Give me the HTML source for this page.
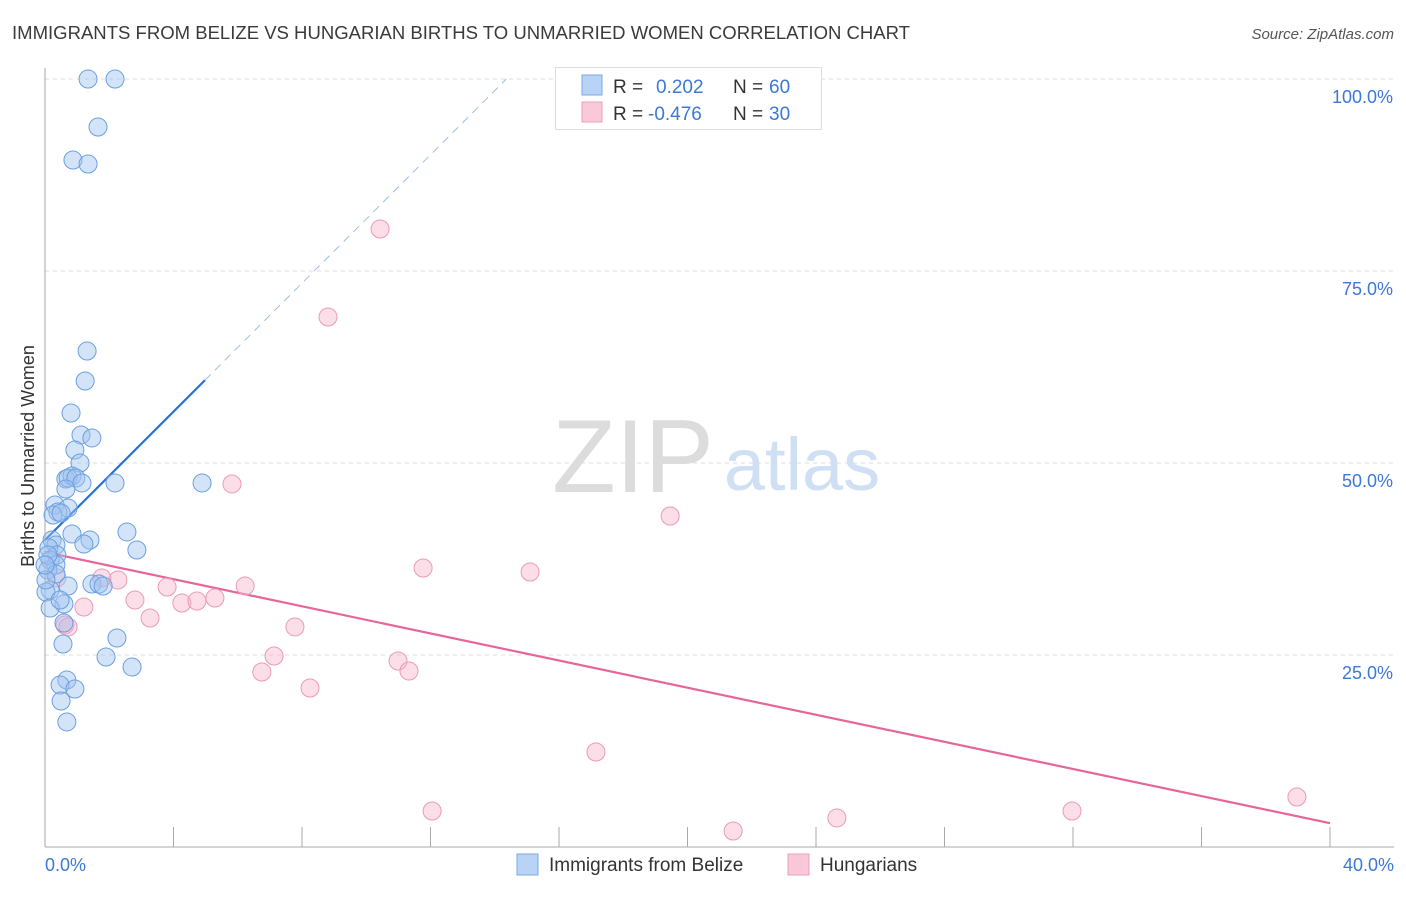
<!DOCTYPE html>
<html><head><meta charset="utf-8"><style>
body{margin:0;background:#fff;font-family:"Liberation Sans",sans-serif;}
svg text{font-family:"Liberation Sans",sans-serif;}
</style></head><body>
<svg id="chart" width="1406" height="892" xmlns="http://www.w3.org/2000/svg">
<text x="12" y="39" font-size="18" fill="#3a3a3a" textLength="898" lengthAdjust="spacingAndGlyphs">IMMIGRANTS FROM BELIZE VS HUNGARIAN BIRTHS TO UNMARRIED WOMEN CORRELATION CHART</text>
<text x="1394" y="39" font-size="15" fill="#555" font-style="italic" text-anchor="end">Source: ZipAtlas.com</text>
<text transform="translate(34,456) rotate(-90)" font-size="18" fill="#333" text-anchor="middle">Births to Unmarried Women</text>
<g>
<text x="633" y="492" font-size="104" fill="#dcdcdc" font-family="Liberation Serif" text-anchor="middle">ZIP</text>
<text x="802" y="490" font-size="74" fill="#cfe0f4" text-anchor="middle">atlas</text>
</g>
<g id="grid"></g>
<g id="axes"></g>
<g id="lines"></g>
<g id="points"></g>
<g>
<rect x="555.5" y="67.5" width="266" height="62" fill="#fff" stroke="#ddd"/>
<rect x="582" y="75" width="20" height="20" fill="#b8d3f5" stroke="#7aa8e6"/>
<rect x="582" y="102" width="20" height="20" fill="#fac8d8" stroke="#eba0ba"/>
<text x="613" y="93" font-size="19" fill="#333">R =</text>
<text x="656" y="93" font-size="19" fill="#3c78d8">0.202</text>
<text x="733" y="93" font-size="19" fill="#333">N =</text>
<text x="769" y="93" font-size="19" fill="#3c78d8">60</text>
<text x="613" y="120" font-size="19" fill="#333">R =</text>
<text x="648" y="120" font-size="19" fill="#3c78d8">-0.476</text>
<text x="733" y="120" font-size="19" fill="#333">N =</text>
<text x="769" y="120" font-size="19" fill="#3c78d8">30</text>
</g>
<g>
<rect x="517" y="854" width="21" height="21" fill="#b8d3f5" stroke="#7aa8e6"/>
<text x="549" y="871" font-size="19" fill="#333">Immigrants from Belize</text>
<rect x="788" y="854" width="21" height="21" fill="#fac8d8" stroke="#eba0ba"/>
<text x="820" y="871" font-size="19" fill="#333">Hungarians</text>
</g>
</svg>
<script>
const yTicks=[25,50,75,100];
const yTickLabels=["25.0%","50.0%","75.0%","100.0%"];
const xTicks=[0,4,8,12,16,20,24,28,32,36,40];
const xEndLabels=["0.0%","40.0%"];
const belizeX=[1.34,2.18,1.65,0.87,1.34,1.31,1.25,0.81,1.12,1.46,0.93,1.09,0.65,0.84,0.72,0.96,1.15,2.18,4.89,0.65,0.31,0.72,0.40,0.25,0.50,0.22,0.34,0.12,0.37,0.16,0.84,1.40,1.21,2.55,2.86,0.34,0.09,0.34,0.16,0.03,0.72,1.46,1.68,1.81,0.59,0.16,0.59,0.56,2.24,1.90,2.71,0.68,0.47,0.93,0.50,0.68,0.03,0.09,0.47,0.0];
const belizeY=[100,100,93.75,89.45,88.93,64.58,60.68,56.51,53.65,53.26,51.69,50.0,47.92,48.31,48.05,48.05,47.40,47.40,47.40,46.61,44.53,44.14,43.62,43.23,43.49,39.97,39.32,38.93,38.02,37.37,40.76,39.97,39.45,41.02,38.67,36.72,36.07,35.55,33.46,33.20,33.98,34.24,34.24,33.98,31.64,31.12,29.17,26.43,27.21,24.74,23.44,21.74,21.09,20.57,19.01,16.28,34.77,38.02,32.16,36.72];
const hungX=[10.43,8.81,5.82,19.46,11.77,15.10,2.27,1.77,0.37,3.80,6.23,2.80,5.29,4.26,4.73,1.21,3.27,0.62,0.72,7.78,7.13,10.99,6.75,11.33,8.25,17.15,12.05,31.97,21.42,24.65,38.97];
const hungY=[80.47,69.01,47.27,43.10,36.33,35.81,34.77,35.03,35.03,33.85,33.98,32.16,32.42,31.77,32.03,31.25,29.82,28.91,28.65,28.65,24.87,24.22,22.79,22.92,20.70,12.37,4.69,4.69,2.08,3.78,6.51];
const belizeTrend=[39.97,4.18]; // intercept, slope
const hungTrend=[38.4,-0.8825];

const X0=45,X1=1330,Y0=847,Y100=79;
const sx=v=>X0+(X1-X0)*v/40;
const sy=v=>Y0-(Y0-Y100)*v/100;
const NS="http://www.w3.org/2000/svg";
function mk(tag,attrs,parent){const e=document.createElementNS(NS,tag);for(const k in attrs)e.setAttribute(k,attrs[k]);parent.appendChild(e);return e;}
const grid=document.getElementById('grid'),axes=document.getElementById('axes'),lines=document.getElementById('lines'),pts=document.getElementById('points');
yTicks.forEach((t,i)=>{
 const l=mk('line',{x1:X0,x2:1394,y1:sy(t),y2:sy(t),stroke:'#ddd','stroke-dasharray':'4,4'},grid);
 
 
 const tx=mk('text',{x:1393,y:sy(t)+24,'font-size':18,fill:'#3c78d8','text-anchor':'end'},axes);
 tx.textContent=yTickLabels[i];
 
 
});
const ya=mk('line',{x1:X0,x2:X0,y1:68,y2:Y0,stroke:'#aaa'},axes);


const xa=mk('line',{x1:X0,x2:1394,y1:Y0,y2:Y0,stroke:'#aaa'},axes);


xTicks.forEach(t=>{
 const l=mk('line',{x1:sx(t),x2:sx(t),y1:827,y2:Y0,stroke:'#aaa'},axes);
 
 
});
[[0,'start',45],[40,'end',1394]].forEach((a,i)=>{
 const tx=mk('text',{x:a[2],y:871,'font-size':18,fill:'#3c78d8','text-anchor':a[1]},axes);
 tx.textContent=xEndLabels[i];
 
 
});
const bEnd=4.98, bDashEnd=(100-belizeTrend[0])/belizeTrend[1];
const bl=mk('line',{x1:sx(0),y1:sy(belizeTrend[0]),x2:sx(bEnd),y2:sy(belizeTrend[0]+belizeTrend[1]*bEnd),stroke:'#2a72d6','stroke-width':2.2},lines);


const bd=mk('line',{x1:sx(bEnd),y1:sy(belizeTrend[0]+belizeTrend[1]*bEnd),x2:sx(bDashEnd),y2:sy(100),stroke:'#9dbde8','stroke-width':1,'stroke-dasharray':'8,6'},lines);


const hl=mk('line',{x1:sx(0),y1:sy(hungTrend[0]),x2:sx(40),y2:sy(hungTrend[0]+hungTrend[1]*40),stroke:'#e8659a','stroke-width':2.2},lines);


hungX.forEach((x,i)=>{
 const c=mk('circle',{cx:sx(x),cy:sy(hungY[i]),r:9,fill:'rgba(246,182,204,0.45)',stroke:'#eb9ab8','stroke-width':1},pts);
 
 
});
belizeX.forEach((x,i)=>{
 const c=mk('circle',{cx:sx(x),cy:sy(belizeY[i]),r:9,fill:'rgba(160,196,240,0.45)',stroke:'#6c9fe0','stroke-width':1},pts);
 
 
});
</script>
</body></html>
